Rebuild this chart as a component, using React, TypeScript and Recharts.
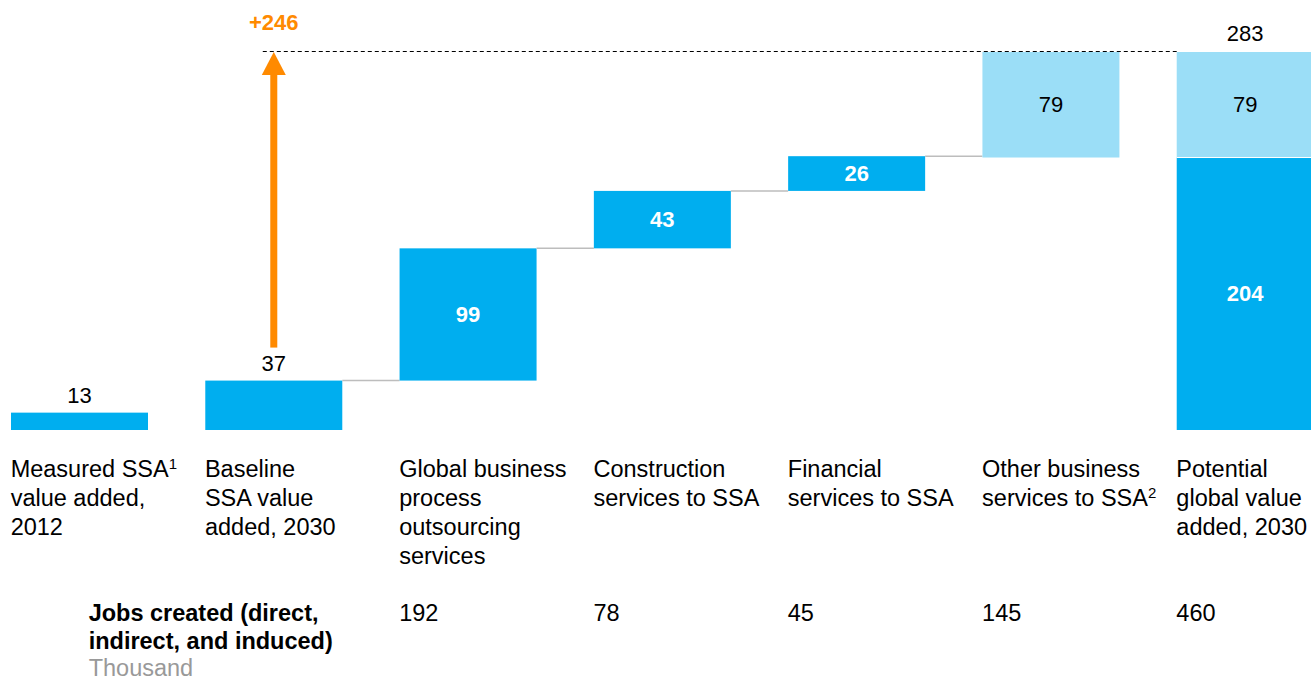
import { BarChart, Bar, XAxis, YAxis } from 'recharts';

// waterfall: value added, $ billion
const categories = [
  ['Measured SSA^1', 'value added,', '2012'],
  ['Baseline', 'SSA value', 'added, 2030'],
  ['Global business', 'process', 'outsourcing', 'services'],
  ['Construction', 'services to SSA'],
  ['Financial', 'services to SSA'],
  ['Other business', 'services to SSA^2'],
  ['Potential', 'global value', 'added, 2030'],
];
const bases = [0, 0, 37, 136, 179, 204, 0];
const values = [13, 37, 99, 43, 26, 79, 204];
const topValues = [0, 0, 0, 0, 0, 0, 79];
const jobs = [null, null, 192, 78, 45, 145, 460];
const total = 283;
const uplift = 246;

const DARK = '#00AEEF';
const LIGHT = '#9BDEF7';
const ORANGE = '#FF8A00';
const FONT = '"Liberation Sans", Arial, sans-serif';

const CHART_W = 1360;
const BAND = CHART_W / categories.length;
const BAR = 137;

const data = categories.map((c, i) => ({
  name: c.join(' '),
  base: bases[i],
  val: values[i],
  top: topValues[i],
}));

function Line2({ text }: { text: string }) {
  const [main, sup] = text.split('^');
  return (
    <>
      {main}
      {sup && (
        <tspan fontSize={15} dy={-8}>
          {sup}
        </tspan>
      )}
    </>
  );
}

function CatTick(props: any) {
  const { x, y, index } = props;
  const left = x - BAR / 2;
  const lines = categories[index];
  return (
    <g fontFamily={FONT} fontSize={23.5} fill="#000">
      {lines.map((l, k) => (
        <text key={k} x={left} y={y + 47 + k * 29} fill="#000">
          <Line2 text={l} />
        </text>
      ))}
      {jobs[index] != null && (
        <text x={left} y={y + 191} fill="#000">
          {jobs[index]}
        </text>
      )}
      {index === 0 && (
        <g>
          <text x={left + 78} y={y + 191} fontWeight="bold" fill="#000">
            Jobs created (direct,
          </text>
          <text x={left + 78} y={y + 219} fontWeight="bold" fill="#000">
            indirect, and induced)
          </text>
          <text x={left + 78} y={y + 246} fill="#999">
            Thousand
          </text>
        </g>
      )}
    </g>
  );
}

function ValShape(props: any) {
  const { x, y, width, height, index, payload } = props;
  const light = index === 5;
  const inside = index >= 2;
  const ppu = height / payload.val;
  const bottom = y + height;
  const yTotal = bottom - (total - payload.base) * ppu;
  const cx = x + width / 2;
  return (
    <g fontFamily={FONT} fontSize={22}>
      {index === 1 && (
        <line x1={cx - 11} x2={x + 5 * BAND} y1={yTotal - 0.5} y2={yTotal - 0.5} stroke="#000" strokeWidth={1} strokeDasharray="4 3" />
      )}
      <rect x={x} y={y} width={width} height={height} fill={light ? LIGHT : DARK} />
      {index >= 1 && index <= 4 && (
        <line x1={x + width} x2={x + BAND} y1={y} y2={y} stroke="#BDBDBD" strokeWidth={1.5} />
      )}
      {inside ? (
        <text
          x={cx}
          y={y + height / 2}
          textAnchor="middle"
          dominantBaseline="central"
          fill={light ? '#000' : '#fff'}
          fontWeight={light ? 'normal' : 'bold'}
        >
          {payload.val}
        </text>
      ) : (
        <text x={cx} y={y - 10} textAnchor="middle" fill="#000">
          {payload.val}
        </text>
      )}
      {index === 1 && (
        <g>
          <rect x={cx - 3.5} y={yTotal + 22} width={7} height={y - 33 - (yTotal + 22)} fill={ORANGE} />
          <polygon points={`${cx},${yTotal} ${cx - 12},${yTotal + 23} ${cx + 12},${yTotal + 23}`} fill={ORANGE} />
          <text x={cx} y={yTotal - 30} textAnchor="middle" dominantBaseline="central" fill={ORANGE} fontWeight="bold">
            +{uplift}
          </text>
        </g>
      )}
    </g>
  );
}

function TopShape(props: any) {
  const { x, y, width, height, payload } = props;
  if (!payload.top) return null;
  const cx = x + width / 2;
  return (
    <g fontFamily={FONT} fontSize={22}>
      <rect x={x} y={y} width={width} height={height} fill={LIGHT} />
      <line x1={x} x2={x + width} y1={y + height} y2={y + height} stroke="#fff" strokeWidth={1} />
      <text x={cx} y={y + height / 2} textAnchor="middle" dominantBaseline="central" fill="#000">
        {payload.top}
      </text>
      <text x={cx} y={y - 11} textAnchor="middle" fill="#000">
        {payload.base + payload.val + payload.top}
      </text>
    </g>
  );
}

export default function App() {
  return (
    <div style={{ position: 'absolute', left: 0, top: 0, width: 1311, height: 680, overflow: 'hidden', background: '#fff' }}>
      <div style={{ position: 'absolute', left: -18, top: 0 }}>
        <BarChart width={CHART_W} height={680} data={data} margin={{ top: 52, right: 0, bottom: 0, left: 0 }}>
          <XAxis
            dataKey="name"
            height={250}
            axisLine={false}
            tickLine={false}
            tickSize={0}
            tickMargin={0}
            interval={0}
            tick={<CatTick />}
          />
          <YAxis hide domain={[0, total]} />
          <Bar dataKey="base" stackId="a" fill="transparent" barSize={BAR} isAnimationActive={false} />
          <Bar dataKey="val" stackId="a" barSize={BAR} shape={<ValShape />} isAnimationActive={false} />
          <Bar dataKey="top" stackId="a" barSize={BAR} shape={<TopShape />} isAnimationActive={false} />
        </BarChart>
      </div>
    </div>
  );
}
